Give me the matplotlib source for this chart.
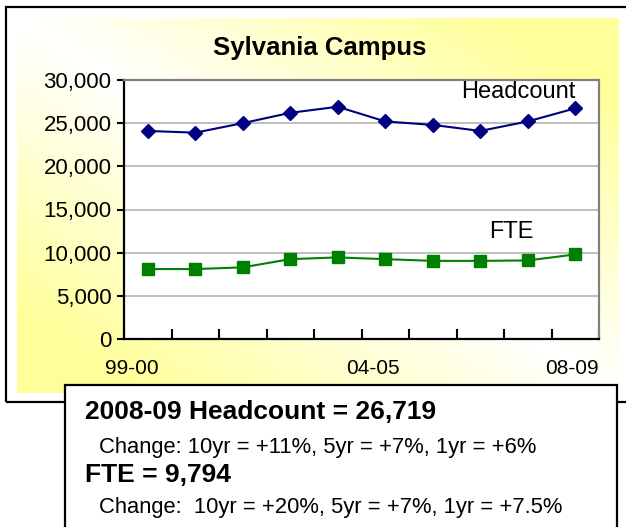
import numpy as np
import matplotlib
matplotlib.use("Agg")
import matplotlib.pyplot as plt
from matplotlib.patches import Rectangle
from matplotlib.colors import to_rgb
import matplotlib.transforms as mtransforms

# data
years = ["99-00", "00-01", "01-02", "02-03", "03-04",
         "04-05", "05-06", "06-07", "07-08", "08-09"]
headcount = [24100, 23900, 25000, 26200, 26900, 25200, 24800, 24100, 25200, 26719]
fte = [8100, 8100, 8300, 9250, 9450, 9250, 9050, 9050, 9100, 9794]
shown_labels = {0: "99-00", 5: "04-05", 9: "08-09"}

title = "Sylvania Campus"
box_lines = ["2008-09 Headcount = 26,719",
             "Change: 10yr = +11%, 5yr = +7%, 1yr = +6%",
             "FTE = 9,794",
             "Change:  10yr = +20%, 5yr = +7%, 1yr = +7.5%"]

W, H = 626, 527
plt.rcParams['font.family'] = ["Liberation Sans", "DejaVu Sans"]

fig = plt.figure(figsize=(W / 100, H / 100), dpi=100)
fig.patch.set_facecolor("white")


def fx(px):
    return px / W


def fy(py):
    return 1 - py / H


# outer frame
fig.patches.append(Rectangle((fx(6), fy(402)), fx(700) - fx(6), fy(7) - fy(402),
                             transform=fig.transFigure, fill=False,
                             edgecolor="black", lw=1.6, zorder=0))

# yellow gradient panel
gx0, gx1, gy0, gy1 = 17, 619, 18, 393
bg = fig.add_axes([fx(gx0), fy(gy1), fx(gx1) - fx(gx0), fy(gy0) - fy(gy1)], zorder=1)
u = np.linspace(0, 1, 300)[None, :]
v = np.linspace(0, 1, 300)[:, None]
d = np.clip(np.abs(u - v) * 1.25, 0, 1)
yel = np.array(to_rgb("#ffff99"))
img = 1 - d[..., None] * (1 - yel)[None, None, :]
bg.imshow(img, aspect="auto", extent=[0, 1, 1, 0])
bg.axis("off")

# main plot area
ax = fig.add_axes([fx(124), fy(339), fx(599) - fx(124), fy(80) - fy(339)], zorder=2)
ax.set_facecolor("white")
x = np.arange(len(years))
ax.plot(x, headcount, color="#000080", lw=1.5, marker="D", ms=7, zorder=3, clip_on=False)
ax.plot(x, fte, color="#008000", lw=1.5, marker="s", ms=8.5, zorder=3, clip_on=False)

ax.set_xlim(-0.5, len(years) - 0.5)
ax.set_ylim(0, 30000)
ax.set_yticks(np.arange(0, 30001, 5000))
ax.set_yticklabels([f"{t:,}" for t in range(0, 30001, 5000)], fontsize=16)
ax.yaxis.grid(True, color="#b4b4b4", lw=1.2)
ax.set_axisbelow(True)
ax.tick_params(axis="y", direction="out", length=5, width=1.5, pad=4)

# ticks between categories, labels only on a few
ax.set_xticks(np.arange(-0.5, len(years) + 0.5, 1))
ax.set_xticklabels([])
ax.tick_params(axis="x", direction="in", length=7, width=1.5)
label_y = -(369 - 339) / (339 - 80)
for i, lab in shown_labels.items():
    off = {0: -16, 5: -12, 9: -3}[i]
    tr = ax.get_xaxis_transform() + mtransforms.ScaledTranslation(off / 100, 0, fig.dpi_scale_trans)
    ax.text(i, label_y, lab, transform=tr, ha="center", va="center", fontsize=15)

for s in ["left", "bottom"]:
    ax.spines[s].set_color("black")
    ax.spines[s].set_linewidth(1.6)
for s in ["top", "right"]:
    ax.spines[s].set_color("#808080")
    ax.spines[s].set_linewidth(1.6)

fig.text(fx(320), fy(48), title, ha="center", va="center", fontsize=18.5,
         fontweight="bold", zorder=5)
fig.text(fx(518), fy(92), "Headcount", ha="center", va="center", fontsize=17, zorder=5)
fig.text(fx(511), fy(232), "FTE", ha="center", va="center", fontsize=17, zorder=5)

# summary box
fig.patches.append(Rectangle((fx(65), fy(560)), fx(617) - fx(65), fy(385) - fy(560),
                             transform=fig.transFigure, facecolor="white",
                             edgecolor="black", lw=1.6, zorder=10))
fig.text(fx(85), fy(412), box_lines[0], ha="left", va="center", fontsize=19,
         fontweight="bold", zorder=11)
fig.text(fx(99), fy(447), box_lines[1], ha="left", va="center", fontsize=15.8, zorder=11)
fig.text(fx(85), fy(475), box_lines[2], ha="left", va="center", fontsize=19,
         fontweight="bold", zorder=11)
fig.text(fx(99), fy(508), box_lines[3], ha="left", va="center", fontsize=15.8, zorder=11)

fig.savefig("out.png", dpi=100)
